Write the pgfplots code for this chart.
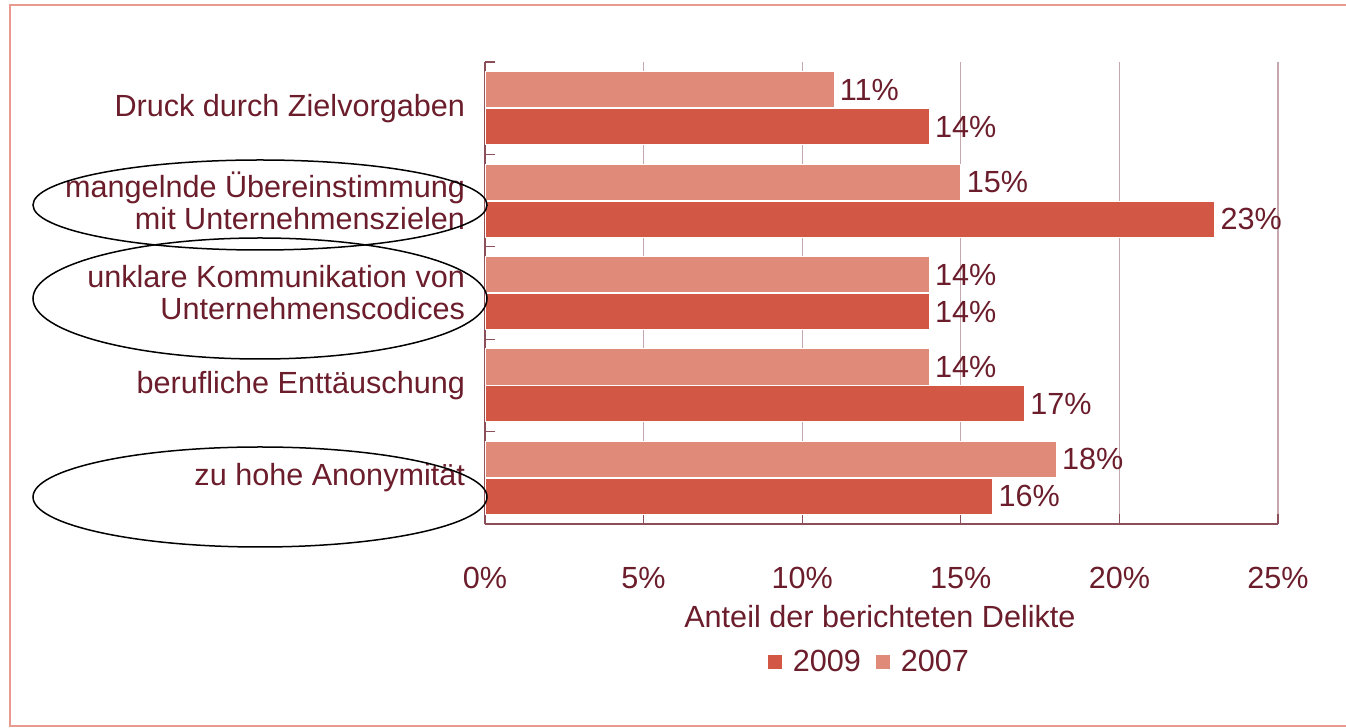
\documentclass[border=0pt]{standalone}
\usepackage{fontspec}
\setmainfont{Liberation Sans}
\usepackage{pgfplots}
\pgfplotsset{compat=1.18}
\definecolor{txt}{HTML}{6B1D2B}
\definecolor{c09}{HTML}{D35745}
\definecolor{c07}{HTML}{E08A7A}
\definecolor{gridc}{HTML}{C4A8AE}
\definecolor{axc}{HTML}{8C4E58}
\definecolor{framec}{HTML}{E99A8E}
\newcommand{\lf}{\fontsize{15.3}{16}\selectfont}
\begin{document}
\begin{tikzpicture}
\useasboundingbox (0,0) rectangle (673pt,364pt);
\fill[white] (0,0) rectangle (673pt,364pt);
\begin{axis}[
  at={(242.5pt,102pt)}, anchor=south west,
  scale only axis, width=396.5pt, height=231pt,
  xbar, bar width=0.39,
  xmin=0, xmax=25, ymin=-0.5, ymax=4.5,
  axis x line*=bottom, axis y line*=left,
  axis line style={axc, line width=0.6pt, -},
  /pgf/number format/assume math mode=true,
  every tick label/.append style={font=\lf, text=txt},
  xtick={0,5,...,25},
  xticklabel={\pgfmathprintnumber{\tick}\%},
  xticklabel style={anchor=center, yshift=-27pt},
  xmajorgrids, major grid style={gridc, line width=0.6pt},
  tick align=inside, major tick length=5pt,
  tick style={axc, line width=0.6pt},
  ytick={-0.5,0.5,1.5,2.5,3.5,4.5}, yticklabels={},
  extra y ticks={0,1,2,3,4},
  extra y tick labels={zu hohe Anonymität, berufliche Enttäuschung, {unklare Kommunikation von\\Unternehmenscodices}, {mangelnde Übereinstimmung\\mit Unternehmenszielen}, Druck durch Zielvorgaben},
  extra y tick style={major tick length=0pt, yticklabel style={align=right, xshift=-6.5pt}},
  xlabel={Anteil der berichteten Delikte},
  xlabel style={at={(axis description cs:0.498,-0.2013)}, anchor=center, font=\lf, text=txt},
  nodes near coords={\pgfmathprintnumber\pgfplotspointmeta\%},
  nodes near coords style={font=\lf, text=txt, anchor=west, xshift=-0.5pt},
  legend style={draw=none, fill=none, legend columns=-1, at={(0.4855,-0.2987)}, anchor=center,
    font=\lf, text=txt,
    /tikz/every even column/.append style={column sep=5pt}},
  legend image code/.code={\fill[#1] (0pt,-3.75pt) rectangle (7.5pt,3.75pt);},
  clip=false,
]
\addplot[fill=c09, draw=white, line width=0.4pt, bar shift=0pt] coordinates {(14,3.8) (23,2.8) (14,1.8) (17,0.8) (16,-0.2)};
\addlegendentry{\hspace{3pt}2009}
\addplot[fill=c07, draw=white, line width=0.4pt, bar shift=0pt] coordinates {(11,4.2) (15,3.2) (14,2.2) (14,1.2) (18,0.2)};
\addlegendentry{\hspace{3pt}2007}
\end{axis}
\draw[black, line width=0.75pt] (130pt,261.5pt) ellipse (113.5pt and 22.5pt);
\draw[black, line width=0.75pt] (130pt,214.75pt) ellipse (113.5pt and 30.25pt);
\draw[black, line width=0.75pt] (130pt,115.5pt) ellipse (113.5pt and 25pt);
\draw[framec, line width=1pt] (5pt,1pt) rectangle (690pt,361.5pt);
\end{tikzpicture}
\end{document}
